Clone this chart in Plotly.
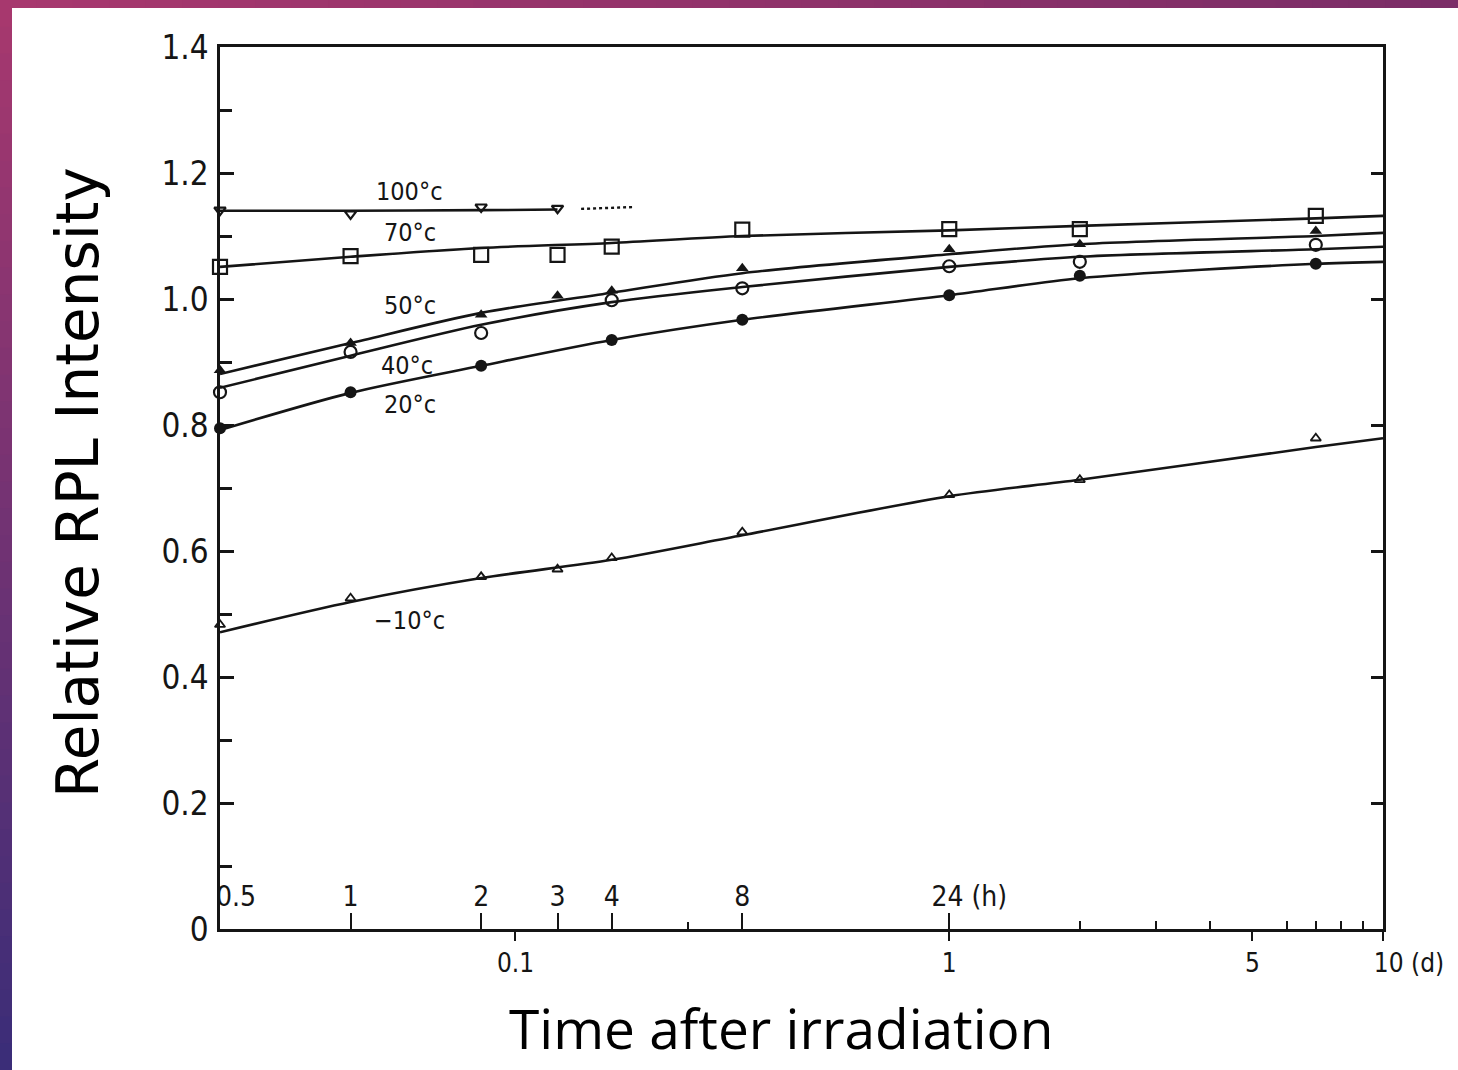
import plotly.graph_objects as go
import math

# ---------------- data (times in hours, values relative RPL intensity) ----------------
series_names = ["100°c", "70°c", "50°c", "40°c", "20°c", "−10°c"]

t100 = [0.5, 1, 2, 3]
v100 = [1.141, 1.135, 1.146, 1.144]
t70 = [0.5, 1, 2, 3, 4, 8, 24, 48, 168]
v70 = [1.051, 1.068, 1.070, 1.070, 1.083, 1.110, 1.111, 1.111, 1.132]
t50 = [0.5, 1, 2, 3, 4, 8, 24, 48, 168]
v50 = [0.887, 0.930, 0.975, 1.005, 1.013, 1.049, 1.079, 1.087, 1.108]
t40 = [0.5, 1, 2, 4, 8, 24, 48, 168]
v40 = [0.852, 0.916, 0.946, 0.998, 1.017, 1.052, 1.059, 1.086]
t20 = [0.5, 1, 2, 4, 8, 24, 48, 168]
v20 = [0.795, 0.852, 0.894, 0.935, 0.967, 1.006, 1.037, 1.056]
tm10 = [0.5, 1, 2, 3, 4, 8, 24, 48, 168]
vm10 = [0.483, 0.525, 0.559, 0.571, 0.589, 0.630, 0.689, 0.713, 0.779]

# fitted curves
fit_t = [0.5, 1, 2, 4, 8, 24, 48, 168, 240]
fit100_t = [0.5, 1, 2, 3]
fit100 = [1.140, 1.140, 1.141, 1.142]
dot100_t = [3.4, 4.5]
dot100 = [1.143, 1.146]
fit70 = [1.051, 1.067, 1.081, 1.089, 1.100, 1.109, 1.116, 1.128, 1.132]
fit50 = [0.881, 0.930, 0.978, 1.010, 1.041, 1.071, 1.087, 1.100, 1.105]
fit40 = [0.859, 0.910, 0.959, 0.995, 1.019, 1.051, 1.067, 1.079, 1.083]
fit20 = [0.792, 0.851, 0.894, 0.935, 0.967, 1.006, 1.033, 1.056, 1.059]
fitm10 = [0.471, 0.519, 0.557, 0.586, 0.625, 0.687, 0.713, 0.765, 0.779]

# curve label positions (hours, value)
label_t = [1.37, 1.37, 1.37, 1.35, 1.37, 1.37]
label_v = [1.170, 1.105, 0.989, 0.895, 0.832, 0.490]

# axis ticks
hour_ticks = [0.5, 1, 2, 3, 4, 8, 24]
hour_text = ["\u00a0\u00a0\u00a0\u00a00.5", "1", "2", "3", "4", "8", "\u00a0\u00a0\u00a0\u00a0\u00a024 (h)"]
hour_minor = [6]
day_ticks = [0.1, 1, 5, 10]
day_text = ["0.1", "1", "5", "\u00a0\u00a0\u00a0\u00a0\u00a0\u00a0\u00a010 (d)"]
day_minor = [2, 3, 4, 6, 7, 8, 9]
y_ticks = [0, 0.2, 0.4, 0.6, 0.8, 1.0, 1.2, 1.4]
y_text = ["0", "0.2", "0.4", "0.6", "0.8", "1.0", "1.2", "1.4"]
y_minor = [0.1, 0.3, 0.5, 0.7, 0.9, 1.1, 1.3]

def d(hours):
    return [h / 24.0 for h in hours]

INK = "#151515"
TICKFONT = "DejaVu Sans Condensed, Liberation Sans Narrow, Arial Narrow, sans-serif"

fig = go.Figure()

# fitted lines
for tt, vv in [(fit100_t, fit100), (fit_t, fit70), (fit_t, fit50), (fit_t, fit40), (fit_t, fit20), (fit_t, fitm10)]:
    fig.add_trace(go.Scatter(x=d(tt), y=vv, mode="lines", line=dict(color=INK, width=2.6, shape="spline", smoothing=0.8),
                             hoverinfo="skip", showlegend=False))
fig.add_trace(go.Scatter(x=d(dot100_t), y=dot100, mode="lines", line=dict(color=INK, width=2.4, dash="dot"),
                         hoverinfo="skip", showlegend=False))

# markers
marker_specs = [
    (t100, v100, dict(symbol="triangle-down-open", size=10, line=dict(width=2.2, color=INK), color=INK)),
    (t70, v70, dict(symbol="square-open", size=14, line=dict(width=2.2, color=INK), color=INK)),
    (t50, v50, dict(symbol="triangle-up", size=11, color=INK, line=dict(width=0))),
    (t40, v40, dict(symbol="circle-open", size=12, line=dict(width=2.2, color=INK), color=INK)),
    (t20, v20, dict(symbol="circle", size=12, color=INK, line=dict(width=0))),
    (tm10, vm10, dict(symbol="triangle-up-open", size=9, line=dict(width=1.8, color=INK), color=INK)),
]
for (tt, vv, mk), name in zip(marker_specs, series_names):
    fig.add_trace(go.Scatter(x=d(tt), y=vv, mode="markers", marker=mk, name=name, showlegend=False,
                             cliponaxis=False))

# invisible traces to activate the hour-scale axis and the right tick axis
fig.add_trace(go.Scatter(x=d([0.5, 240]), y=[None, None], xaxis="x2", yaxis="y", mode="lines",
                         showlegend=False, hoverinfo="skip"))
fig.add_trace(go.Scatter(x=d([0.5, 240]), y=[None, None], xaxis="x", yaxis="y2", mode="lines",
                         showlegend=False, hoverinfo="skip"))

# curve labels
for name, lt, lv in zip(series_names, label_t, label_v):
    fig.add_annotation(x=math.log10(lt / 24.0), y=lv, xref="x", yref="y", text=name, showarrow=False,
                       font=dict(family=TICKFONT, size=25, color=INK), xanchor="center", yanchor="middle")

xr = [math.log10(0.5 / 24.0), 1.0]

W, H = 1458, 1070
L, R, T, B = 220, 75, 47, 141
pw, ph = W - L - R, H - T - B

def px(x):
    return (x - L) / pw

def py(y):
    return (H - B - y) / ph

def lerp(c1, c2, f):
    return "rgb({},{},{})".format(*[round(a + (b - a) * f) for a, b in zip(c1, c2)])

shapes = []
n = 40
top_c, bot_c = (168, 56, 110), (58, 45, 120)
for i in range(n):
    y0 = H * i / n
    y1 = H * (i + 1) / n + 1
    shapes.append(dict(type="rect", xref="paper", yref="paper", x0=px(0), x1=px(12), y0=py(y1), y1=py(y0),
                       fillcolor=lerp(top_c, bot_c, (i + 0.5) / n), line=dict(width=0), layer="below"))
left_c, right_c = (168, 56, 110), (122, 45, 103)
for i in range(n):
    x0 = W * i / n
    x1 = W * (i + 1) / n + 1
    shapes.append(dict(type="rect", xref="paper", yref="paper", x0=px(x0), x1=px(x1), y0=py(8), y1=py(0),
                       fillcolor=lerp(left_c, right_c, (i + 0.5) / n), line=dict(width=0), layer="below"))

fig.update_layout(
    width=W, height=H,
    margin=dict(l=L, r=R, t=T, b=B, autoexpand=False),
    paper_bgcolor="white", plot_bgcolor="white",
    shapes=shapes,
    xaxis=dict(type="log", range=xr, showgrid=False, zeroline=False,
               showline=True, linecolor=INK, linewidth=2.5, mirror=True,
               tickmode="array", tickvals=day_ticks, ticktext=day_text,
               ticks="outside", ticklen=9, tickwidth=2, tickcolor=INK,
               minor=dict(tickmode="array", tickvals=day_minor, ticks="inside", ticklen=8, tickwidth=2, tickcolor=INK, showgrid=False),
               tickfont=dict(family=TICKFONT, size=26, color=INK), ticklabelstandoff=0),
    xaxis2=dict(type="log", range=xr, overlaying="x", anchor="y", side="bottom", showgrid=False, zeroline=False,
                showline=False, tickmode="array", tickvals=d(hour_ticks), ticktext=hour_text,
                ticks="inside", ticklen=16, tickwidth=2, tickcolor=INK, ticklabelposition="inside",
                ticklabeloverflow="allow", ticklabelstandoff=4,
                minor=dict(tickmode="array", tickvals=d(hour_minor), ticks="inside", ticklen=7, tickwidth=2, tickcolor=INK, showgrid=False),
                tickfont=dict(family=TICKFONT, size=28, color=INK)),
    yaxis=dict(range=[0, 1.4], showgrid=False, zeroline=False,
               showline=True, linecolor=INK, linewidth=2.5, mirror=True,
               tickmode="array", tickvals=y_ticks, ticktext=y_text, ticklabeloverflow="allow",
               ticks="inside", ticklen=14, tickwidth=2.5, tickcolor=INK,
               minor=dict(tickmode="array", tickvals=y_minor, ticks="inside",
                          ticklen=12, tickwidth=2.5, tickcolor=INK, showgrid=False),
               tickfont=dict(family=TICKFONT, size=33, color=INK), ticklabelstandoff=2),
    yaxis2=dict(range=[0, 1.4], overlaying="y", side="right", anchor="x", showgrid=False, zeroline=False,
                showline=False, tickmode="array", tickvals=y_ticks, showticklabels=False,
                ticks="inside", ticklen=12, tickwidth=2.5, tickcolor=INK),
    annotations=list(fig.layout.annotations) + [
        dict(text="Relative RPL Intensity", xref="paper", yref="paper", x=px(78), y=py(483), textangle=-90,
             showarrow=False, xanchor="center", yanchor="middle",
             font=dict(family="DejaVu Sans, Noto Sans, sans-serif", size=58, color="#000")),
        dict(text="Time after irradiation", xref="paper", yref="paper", x=px(781), y=py(1027),
             showarrow=False, xanchor="center", yanchor="middle",
             font=dict(family="Open Sans, Noto Sans, sans-serif", size=55, color="#000")),
    ],
)

fig.write_html("out.html")
